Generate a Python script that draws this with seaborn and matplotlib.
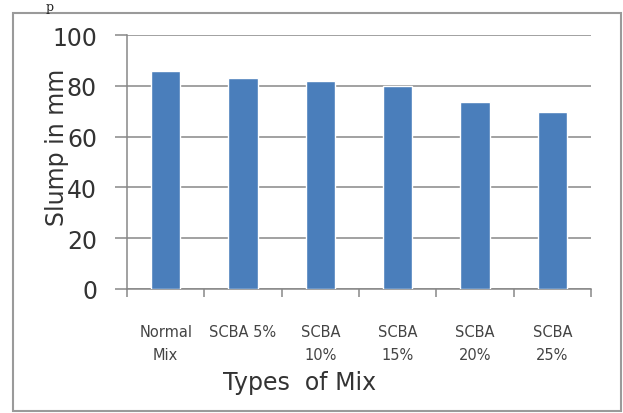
import matplotlib
matplotlib.use("Agg")
import matplotlib.pyplot as plt
from matplotlib.patches import Rectangle
from matplotlib.ticker import FixedLocator
import seaborn as sns
import pandas as pd

# Slump values for each concrete mix
mix_types = ["Normal\nMix", "SCBA 5%", "SCBA\n10%", "SCBA\n15%", "SCBA\n20%", "SCBA\n25%"]
slump_mm = [86, 83, 82, 80, 73.5, 69.5]
y_ticks = [0, 20, 40, 60, 80, 100]

sns.set_theme(style="white")
plt.rcParams["font.family"] = ["DejaVu Sans"]

df = pd.DataFrame({"mix": mix_types, "slump": slump_mm})

fig = plt.figure(figsize=(6.23, 4.14), dpi=100)
ax = fig.add_axes([127 / 623, 1 - 290 / 414, 464 / 623, 254 / 414])

sns.barplot(data=df, x="mix", y="slump", color="#4a7ebb", saturation=1,
            width=0.38, ax=ax, zorder=3)

ax.set_ylim(0, 100)
ax.set_xlim(-0.5, len(mix_types) - 0.5)
ax.set_yticks(y_ticks)
ax.yaxis.grid(True, color="#878787", linewidth=1.1, zorder=0)
ax.set_axisbelow(True)

for side in ("top", "right"):
    ax.spines[side].set_visible(False)
for side in ("left", "bottom"):
    ax.spines[side].set_color("#878787")
    ax.spines[side].set_linewidth(1.1)

# y ticks: outward marks continuing the gridlines
ax.tick_params(axis="y", which="major", direction="out", length=8.6, width=1.1,
               color="#878787", pad=13, labelsize=17, labelcolor="#333333", left=True)

# x ticks: marks at category boundaries, labels centred on bars
ax.xaxis.set_minor_locator(FixedLocator([i - 0.5 for i in range(len(mix_types) + 1)]))
ax.tick_params(axis="x", which="minor", direction="out", length=6, width=1.1,
               color="#878787", bottom=True)
ax.tick_params(axis="x", which="major", length=0, pad=25, labelsize=10.5,
               labelcolor="#444444")
for lbl in ax.get_xticklabels():
    lbl.set_linespacing(1.65)
    lbl.set_verticalalignment("top")

ax.set_ylabel("Slump in mm", fontsize=17, color="#333333")
ax.yaxis.set_label_coords(-0.124, 0.563)
ax.set_xlabel("Types  of Mix", fontsize=17, color="#333333")
ax.xaxis.set_label_coords(0.371, -0.318)

# chart border
fig.patches.append(Rectangle((13 / 623, 1 - 412 / 414), 608 / 623, 398 / 414,
                             transform=fig.transFigure, fill=False,
                             edgecolor="#9a9a9a", linewidth=1.5))
fig.text(46 / 623, 1 - 1 / 414, "p", family="DejaVu Serif", fontsize=9,
         color="#222222", va="top")

fig.savefig("out.png", dpi=100)
